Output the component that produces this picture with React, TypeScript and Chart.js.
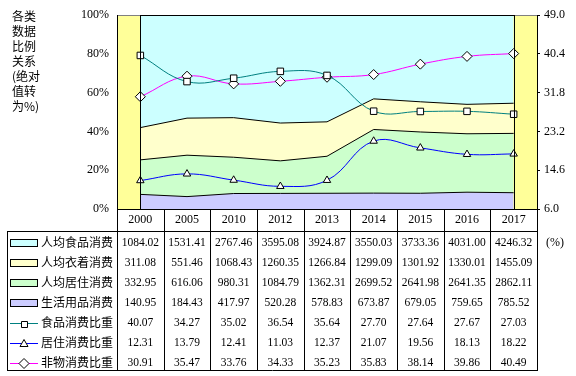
import React, { useEffect, useRef } from 'react';
import { Chart, registerables } from 'chart.js';

Chart.register(...registerables);

const years = ['2000', '2005', '2010', '2012', '2013', '2014', '2015', '2016', '2017'];
const foodSpend = [1084.02, 1531.41, 2767.46, 3595.08, 3924.87, 3550.03, 3733.36, 4031.0, 4246.32];
const clothingSpend = [311.08, 551.46, 1068.43, 1260.35, 1266.84, 1299.09, 1301.92, 1330.01, 1455.09];
const housingSpend = [332.95, 616.06, 980.31, 1084.79, 1362.31, 2699.52, 2641.98, 2641.35, 2862.11];
const dailySpend = [140.95, 184.43, 417.97, 520.28, 578.83, 673.87, 679.05, 759.65, 785.52];
const foodShare = [40.07, 34.27, 35.02, 36.54, 35.64, 27.7, 27.64, 27.67, 27.03];
const housingShare = [12.31, 13.79, 12.41, 11.03, 12.37, 21.07, 19.56, 18.13, 18.22];
const nonMaterialShare = [30.91, 35.47, 33.76, 34.33, 35.23, 35.83, 38.14, 39.86, 40.49];
const leftTicks = [0, 20, 40, 60, 80, 100];
const rightTicks = [6.0, 14.6, 23.2, 31.8, 40.4, 49.0];
const leftTitleLines = ['各类', '数据', '比例', '关系', '(绝对', '值转', '为%)'];
const unitLabel = '(%)';

const names = {
  food: '人均食品消费',
  clothing: '人均衣着消费',
  housing: '人均居住消费',
  daily: '生活用品消费',
  foodShare: '食品消费比重',
  housingShare: '居住消费比重',
  nonMaterialShare: '非物消费比重',
};

const COLORS = {
  food: '#CCFFFF',
  clothing: '#FFFFCC',
  housing: '#CCFFCC',
  daily: '#CCCCFF',
  foodShare: '#008080',
  housingShare: '#0000FF',
  nonMaterialShare: '#FF00FF',
  band: '#FFFF99',
};

const totals = years.map((_, i) => foodSpend[i] + clothingSpend[i] + housingSpend[i] + dailySpend[i]);
const pct = (arr: number[]) => arr.map((v, i) => (v / totals[i]) * 100);

const SERIF = "'Liberation Serif', 'Times New Roman', serif";
const CJK = "'Noto Sans CJK SC', 'Noto Sans', sans-serif";

type Row = { label: string; kind: 'area' | 'line'; color: string; shape?: string; values: number[] };
const tableRows: Row[] = [
  { label: names.food, kind: 'area', color: COLORS.food, values: foodSpend },
  { label: names.clothing, kind: 'area', color: COLORS.clothing, values: clothingSpend },
  { label: names.housing, kind: 'area', color: COLORS.housing, values: housingSpend },
  { label: names.daily, kind: 'area', color: COLORS.daily, values: dailySpend },
  { label: names.foodShare, kind: 'line', color: COLORS.foodShare, shape: 'square', values: foodShare },
  { label: names.housingShare, kind: 'line', color: COLORS.housingShare, shape: 'triangle', values: housingShare },
  { label: names.nonMaterialShare, kind: 'line', color: COLORS.nonMaterialShare, shape: 'diamond', values: nonMaterialShare },
];

const px = (v: number) => Math.round(v) + 0.5;

function hline(ctx: CanvasRenderingContext2D, x1: number, x2: number, y: number, color = '#000') {
  ctx.beginPath();
  ctx.strokeStyle = color;
  ctx.lineWidth = 1;
  ctx.moveTo(Math.round(x1), px(y));
  ctx.lineTo(Math.round(x2) + 1, px(y));
  ctx.stroke();
}
function vline(ctx: CanvasRenderingContext2D, x: number, y1: number, y2: number, color = '#000') {
  ctx.beginPath();
  ctx.strokeStyle = color;
  ctx.lineWidth = 1;
  ctx.moveTo(px(x), Math.round(y1));
  ctx.lineTo(px(x), Math.round(y2) + 1);
  ctx.stroke();
}

function drawMarker(ctx: CanvasRenderingContext2D, shape: string, x: number, y: number) {
  ctx.beginPath();
  if (shape === 'square') {
    ctx.rect(Math.round(x - 3) + 0.5, Math.round(y - 3) + 0.5, 6, 6);
  } else if (shape === 'triangle') {
    ctx.moveTo(x, y - 4);
    ctx.lineTo(x + 4, y + 3);
    ctx.lineTo(x - 4, y + 3);
    ctx.closePath();
  } else {
    ctx.moveTo(x, y - 5);
    ctx.lineTo(x + 5, y);
    ctx.lineTo(x, y + 5);
    ctx.lineTo(x - 5, y);
    ctx.closePath();
  }
  ctx.fillStyle = '#fff';
  ctx.fill();
  ctx.strokeStyle = '#000';
  ctx.lineWidth = 1;
  ctx.stroke();
}

const bandPlugin = {
  id: 'bandPlugin',
  beforeDatasetsDraw(chart: any) {
    const { ctx, chartArea } = chart;
    ctx.save();
    ctx.fillStyle = COLORS.band;
    ctx.fillRect(chartArea.left, chartArea.top, chartArea.right - chartArea.left, chartArea.bottom - chartArea.top);
    ctx.restore();
  },
  afterDatasetsDraw(chart: any) {
    const { ctx, chartArea } = chart;
    const xs = chart.scales.x;
    const x0 = xs.getPixelForValue(0);
    const xN = xs.getPixelForValue(years.length - 1);
    ctx.save();
    hline(ctx, chartArea.left, chartArea.right, chartArea.top, '#808080');
    hline(ctx, x0, xN, chartArea.top, '#000');
    vline(ctx, x0, chartArea.top, chartArea.bottom);
    vline(ctx, xN, chartArea.top, chartArea.bottom);
    vline(ctx, chartArea.left, chartArea.top, chartArea.bottom);
    vline(ctx, chartArea.right, chartArea.top, chartArea.bottom);
    ctx.restore();
  },
  afterDraw(chart: any) {
    const { ctx, chartArea } = chart;
    const xs = chart.scales.x;
    const colW = xs.getPixelForValue(1) - xs.getPixelForValue(0);
    const headTop = chartArea.bottom;
    const headBottom = headTop + 22;
    const rowH = 20;
    const tableBottom = headBottom + rowH * tableRows.length - 1;
    const tableLeft = 7;
    ctx.save();
    // grid
    hline(ctx, chartArea.left, chartArea.right, headTop);
    hline(ctx, tableLeft, chartArea.right, headBottom);
    hline(ctx, tableLeft, chartArea.right, tableBottom);
    vline(ctx, tableLeft, headBottom, tableBottom);
    for (let i = 0; i <= years.length; i++) {
      const x = xs.getPixelForValue(0) - colW / 2 + i * colW;
      vline(ctx, x, headTop, tableBottom);
    }
    // header years
    ctx.fillStyle = '#000';
    ctx.textAlign = 'center';
    ctx.textBaseline = 'middle';
    ctx.font = `12px ${SERIF}`;
    years.forEach((y, i) => ctx.fillText(y, xs.getPixelForValue(i), headTop + 11));
    // rows
    tableRows.forEach((row, r) => {
      const cy = headBottom + 11.5 + r * rowH;
      // key
      if (row.kind === 'area') {
        ctx.fillStyle = row.color;
        ctx.fillRect(10, Math.round(cy - 4), 27, 7);
        ctx.strokeStyle = '#000';
        ctx.lineWidth = 1;
        ctx.strokeRect(10.5, Math.round(cy - 4) + 0.5, 27, 7);
      } else {
        ctx.beginPath();
        ctx.strokeStyle = row.color;
        ctx.lineWidth = 1;
        ctx.moveTo(10, px(cy));
        ctx.lineTo(38, px(cy));
        ctx.stroke();
        drawMarker(ctx, row.shape || 'square', 24, Math.round(cy) + 0.5);
      }
      ctx.fillStyle = '#000';
      ctx.textAlign = 'left';
      ctx.font = `12px ${CJK}`;
      ctx.fillText(row.label, 41, cy);
      ctx.textAlign = 'center';
      ctx.font = `11.5px ${SERIF}`;
      row.values.forEach((v, i) => ctx.fillText(v.toFixed(2), xs.getPixelForValue(i), cy + 0.5));
    });
    // unit
    ctx.textAlign = 'left';
    ctx.font = `12px ${SERIF}`;
    ctx.fillText(unitLabel, 546, headBottom + 12);
    // left title
    ctx.font = `12px ${CJK}`;
    leftTitleLines.forEach((t, i) => ctx.fillText(t, 12, 16 + i * 15));
    ctx.restore();
  },
};

export default function App() {
  const ref = useRef<HTMLCanvasElement | null>(null);
  useEffect(() => {
    if (!ref.current) return;
    const lineDs = (label: string, data: number[], color: string, style: string, radius: number) => ({
      type: 'line' as const,
      label,
      data,
      yAxisID: 'y2',
      borderColor: color,
      borderWidth: 1,
      backgroundColor: '#fff',
      pointBackgroundColor: '#fff',
      pointBorderColor: '#000',
      pointBorderWidth: 1,
      pointStyle: style,
      pointRadius: radius,
      fill: false,
      tension: 0.4,
      order: 0,
    });
    const areaDs = (label: string, data: number[], color: string, fill: any) => ({
      type: 'line' as const,
      label,
      data,
      yAxisID: 'y',
      borderColor: '#000',
      borderWidth: 1,
      backgroundColor: color,
      pointRadius: 0,
      fill,
      tension: 0,
      stack: 'spend',
      order: 1,
    });
    const chart = new Chart(ref.current, {
      type: 'line',
      data: {
        labels: years,
        datasets: [
          areaDs(names.daily, pct(dailySpend), COLORS.daily, 'origin'),
          areaDs(names.housing, pct(housingSpend), COLORS.housing, '-1'),
          areaDs(names.clothing, pct(clothingSpend), COLORS.clothing, '-1'),
          areaDs(names.food, pct(foodSpend), COLORS.food, '-1'),
          lineDs(names.foodShare, foodShare, COLORS.foodShare, 'rect', 4.6),
          lineDs(names.housingShare, housingShare, COLORS.housingShare, 'triangle', 4.3),
          lineDs(names.nonMaterialShare, nonMaterialShare, COLORS.nonMaterialShare, 'rectRot', 5),
        ] as any,
      },
      options: {
        responsive: false,
        animation: false,
        devicePixelRatio: 1,
        layout: { padding: { top: 15, bottom: 167, left: 0, right: 0 } },
        plugins: { legend: { display: false }, tooltip: { enabled: false } },
        scales: {
          x: { type: 'category', offset: true, display: false },
          y: {
            position: 'left',
            stacked: true,
            min: 0,
            max: 100,
            afterFit: (s: any) => { s.width = 117; },
            afterBuildTicks: (s: any) => { s.ticks = leftTicks.map((v) => ({ value: v })); },
            grid: { display: false, drawTicks: false },
            border: { display: false },
            ticks: {
              padding: 8,
              color: '#000',
              font: { family: SERIF, size: 12 },
              callback: (v: any) => `${v}%`,
            },
          },
          y2: {
            position: 'right',
            min: 6,
            max: 49,
            afterFit: (s: any) => { s.width = 39; },
            afterBuildTicks: (s: any) => { s.ticks = rightTicks.map((v) => ({ value: v })); },
            grid: { display: true, drawOnChartArea: false, drawTicks: true, tickLength: 3, color: '#000' },
            border: { display: false },
            ticks: {
              padding: 4,
              color: '#000',
              font: { family: SERIF, size: 12 },
              callback: (v: any) => Number(v).toFixed(1),
            },
          },
        },
      },
      plugins: [bandPlugin],
    });
    return () => chart.destroy();
  }, []);
  return (
    <div style={{ position: 'fixed', left: 0, top: 0, width: 576, height: 376, background: '#fff' }}>
      <canvas ref={ref} width={576} height={376} style={{ display: 'block', width: 576, height: 376 }} />
    </div>
  );
}
